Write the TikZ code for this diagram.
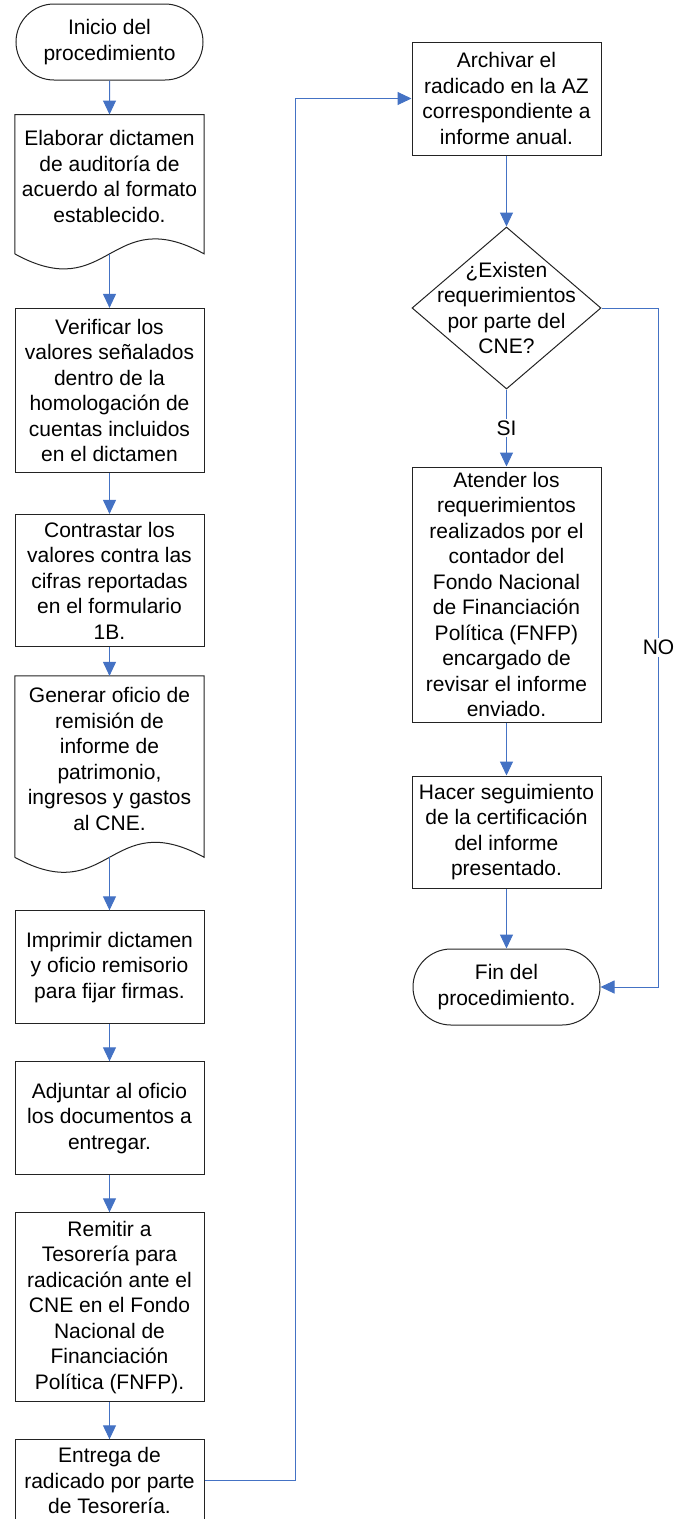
\documentclass[tikz,border=0pt]{standalone}
\usepackage{fontspec}
\setmainfont{Liberation Sans}
\usepackage{tikz}
\usetikzlibrary{shapes.geometric, shapes.misc, arrows.meta, positioning}
\definecolor{flujoazul}{RGB}{68, 114, 196}
\definecolor{bordegris}{RGB}{35, 35, 35}

\begin{document}
\begin{tikzpicture}[
    x=1pt, y=1pt,
    every node/.style={font=\fontsize{21pt}{25.5pt}\selectfont},
    box/.style={rectangle, draw=bordegris, line width=1pt, minimum width=189pt, align=center, inner sep=1pt},
    term/.style={rounded rectangle, draw=bordegris, line width=1pt, minimum width=189pt, minimum height=76pt, align=center, inner sep=1pt},
    doc/.style={rectangle, minimum width=189pt, align=center, inner sep=1pt},
    docline/.style={draw=bordegris, line width=1pt},
    decision/.style={diamond, draw=bordegris, line width=1pt, minimum width=189pt, minimum height=162pt, inner sep=0pt},
    arrow/.style={-{Triangle[length=14pt, width=13pt]}, flujoazul, line width=1pt},
    etiqueta/.style={fill=white, text=black, inner sep=2pt}
]
    \useasboundingbox (0,0) rectangle (690,-1519);

    % Left column
    \node[term] (inicio) at (109.5,-42) {Inicio del\\procedimiento};
    \node[doc, minimum height=124pt, below=34pt of inicio] (elabora) {Elaborar dictamen\\de auditoría de\\acuerdo al formato\\establecido.};
    \node[box, minimum height=164pt, below=69pt of elabora] (verifica) {Verificar los\\valores señalados\\dentro de la\\homologación de\\cuentas incluidos\\en el dictamen};
    \node[box, minimum height=132pt, below=41pt of verifica] (contrasta) {Contrastar los\\valores contra las\\cifras reportadas\\en el formulario\\1B.};
    \node[doc, minimum height=166pt, below=29pt of contrasta] (genera) {Generar oficio de\\remisión de\\informe de\\patrimonio,\\ingresos y gastos\\al CNE.};
    \node[box, minimum height=113pt, below=68pt of genera] (imprime) {Imprimir dictamen\\y oficio remisorio\\para fijar firmas.};
    \node[box, minimum height=113pt, below=37pt of imprime] (adjunta) {Adjuntar al oficio\\los documentos a\\entregar.};
    \node[box, minimum height=189pt, below=37pt of adjunta] (remite) {Remitir a\\Tesorería para\\radicación ante el\\CNE en el Fondo\\Nacional de\\Financiación\\Política (FNFP).};
    \node[box, minimum height=82pt, below=37pt of remite] (entrega) {Entrega de\\radicado por parte\\de Tesorería.};

    % Document outlines
    \draw[docline] ([yshift=-15pt]elabora.south west) -- (elabora.north west) -- (elabora.north east) -- ([yshift=-15pt]elabora.south east)
        .. controls ([yshift=37pt]elabora.south) and ([yshift=-67pt]elabora.south) .. ([yshift=-15pt]elabora.south west);
    \draw[docline] ([yshift=-15pt]genera.south west) -- (genera.north west) -- (genera.north east) -- ([yshift=-15pt]genera.south east)
        .. controls ([yshift=37pt]genera.south) and ([yshift=-67pt]genera.south) .. ([yshift=-15pt]genera.south west);

    % Right column
    \node[box, minimum height=113pt, right=208pt of inicio, yshift=-56.5pt] (archiva) {Archivar el\\radicado en la AZ\\correspondiente a\\informe anual.};
    \node[decision, below=71pt of archiva] (existe) {};
    \node[align=center] (existetxt) at (existe) {¿Existen\\requerimientos\\por parte del\\CNE?};
    \node[box, minimum height=255pt, below=77pt of existe] (atiende) {Atender los\\requerimientos\\realizados por el\\contador del\\Fondo Nacional\\de Financiación\\Política (FNFP)\\encargado de\\revisar el informe\\enviado.};
    \node[box, minimum height=112pt, below=53pt of atiende] (sigue) {Hacer seguimiento\\de la certificación\\del informe\\presentado.};
    \node[term, below=60pt of sigue] (fin) {Fin del\\procedimiento.};

    % Arrows
    \draw[arrow] (inicio) -- (elabora);
    \draw[arrow] ([yshift=-15pt]elabora.south) -- (verifica);
    \draw[arrow] (verifica) -- (contrasta);
    \draw[arrow] (contrasta) -- (genera);
    \draw[arrow] ([yshift=-15pt]genera.south) -- (imprime);
    \draw[arrow] (imprime) -- (adjunta);
    \draw[arrow] (adjunta) -- (remite);
    \draw[arrow] (remite) -- (entrega);
    \draw[arrow] (entrega.east) -- ++(91,0) |- (archiva.west);
    \draw[arrow] (archiva) -- (existe);
    \draw[arrow] (existe.south) -- node[etiqueta] {SI} (atiende.north);
    \draw[arrow] (atiende) -- (sigue);
    \draw[arrow] (sigue) -- (fin);
    \draw[arrow] (existe.east) -- ++(57,0) |- node[etiqueta, pos=0.25] {NO} (fin.east);
\end{tikzpicture}
\end{document}
